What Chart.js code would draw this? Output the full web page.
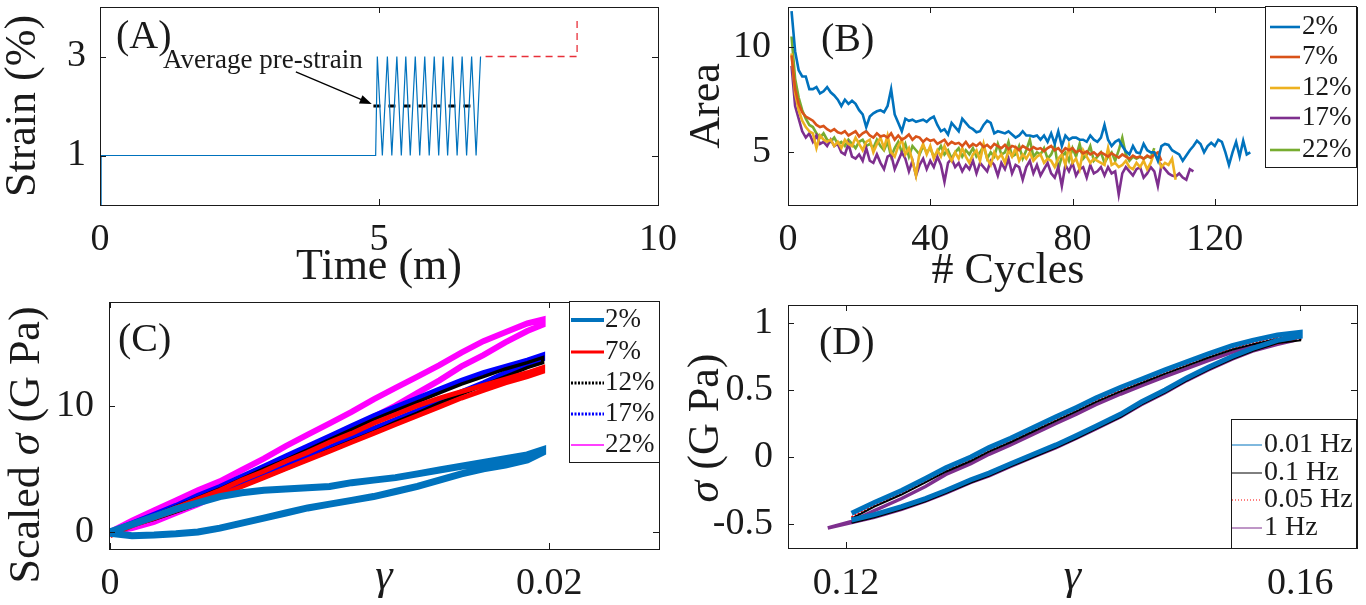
<!DOCTYPE html>
<html>
<head>
<meta charset="utf-8">
<script src="https://cdn.jsdelivr.net/npm/chart.js@4.4.1/dist/chart.umd.min.js"></script>
<style>
  html, body { margin: 0; background: #fff; }
  #wrap { position: relative; width: 1366px; height: 605px; overflow: hidden; }
  #wrap canvas { position: absolute; left: 0; top: 0; }
</style>
</head>
<body>
<div id="wrap">
  <canvas id="chartA" width="1366" height="605"></canvas>
  <canvas id="chartB" width="1366" height="605"></canvas>
  <canvas id="chartC" width="1366" height="605"></canvas>
  <canvas id="chartD" width="1366" height="605"></canvas>
</div>
<script>
// ---- Panel A: strain protocol ----
const STRAIN_T = [0.02, 0.02, 4.94, 4.97, 5.06, 5.15, 5.23, 5.32, 5.40, 5.48, 5.56, 5.65, 5.73, 5.82, 5.90, 5.99, 6.07, 6.15, 6.23, 6.32, 6.40, 6.49, 6.57, 6.66, 6.74, 6.82];
const STRAIN_V = [0, 1, 1, 3, 1, 3, 1, 3, 1, 3, 1, 3, 1, 3, 1, 3, 1, 3, 1, 3, 1, 3, 1, 3, 1, 3];
const AVG_T = [4.90, 6.76];
const AVG_V = [2, 2];
const NEXT_T = [6.91, 8.55, 8.55];
const NEXT_V = [3, 3, 3.8];
const ARROW_FROM = [3.51, 2.69];
const ARROW_TO = [4.87, 2.04];

// ---- Panel B: loop area per cycle (cycle = index + 1) ----
const AREA_LABELS = ['2%', '7%', '12%', '17%', '22%'];
const AREA_2 = [
  11.7, 9.8, 8.9, 8.6, 8.6, 8.0, 8.0, 8.1, 7.8, 7.9,
  8.1, 7.85, 7.7, 7.5, 7.2, 7.5, 7.3, 7.45, 7.3, 7.0,
  6.8, 6.2, 6.7, 6.85, 6.95, 7.0, 6.9, 7.2, 8.0, 6.8,
  6.4, 6.0, 6.6, 6.5, 6.55, 6.45, 6.5, 6.55, 6.45, 6.6,
  6.7, 6.3, 6.0, 6.1, 5.85, 6.4, 6.2, 6.0, 6.6, 6.4,
  6.2, 6.1, 5.95, 6.0, 6.3, 6.5, 6.4, 5.9, 6.0, 5.95,
  5.9, 6.0, 5.85, 5.7, 5.8, 6.0, 5.8, 5.8, 5.75, 5.8,
  5.6, 5.8, 5.5, 5.9, 5.4, 6.0, 5.3, 5.8, 5.6, 5.7,
  5.7, 5.6, 5.6, 5.5, 5.8, 5.6, 5.5, 5.7, 6.3, 5.6,
  5.3, 5.5, 5.6, 5.3, 5.05, 4.9, 5.3, 5.0, 4.95, 5.4,
  5.1, 5.0, 5.0, 4.6, 5.3, 5.4, 5.35, 5.1, 5.0, 4.9,
  4.6, 4.85, 5.1, 5.3, 5.55, 5.4, 5.0, 5.3, 5.45, 5.3,
  5.6, 5.5, 5.0, 4.4, 5.0, 5.5, 4.8, 5.55, 4.9, 5.0];
const AREA_7 = [
  9.6, 8.0, 7.3, 6.9, 6.7, 6.6, 6.5, 6.3, 6.2, 6.25,
  6.1, 6.0, 6.1, 5.95, 5.9, 6.0, 5.8, 5.9, 6.0, 5.75,
  5.9, 6.0, 5.8, 5.7, 5.9, 5.75, 5.8, 5.7, 5.9, 5.6,
  5.8, 5.6, 5.7, 5.85, 5.6, 5.75, 5.7, 5.5, 5.65, 5.55,
  5.6, 5.4, 5.5, 5.6, 5.35, 5.5, 5.4, 5.45, 5.3, 5.5,
  5.25, 5.4, 5.3, 5.45, 5.25, 5.35, 5.2, 5.4, 5.3, 5.2,
  5.35, 5.15, 5.3, 5.25, 5.1, 5.3, 5.2, 5.1, 5.25, 5.15,
  5.2, 5.05, 5.2, 5.3, 5.1, 5.2, 5.0, 5.2, 5.1, 5.2,
  5.0, 5.1, 4.95, 5.05, 4.9, 5.0, 4.85, 5.0, 4.9, 4.8,
  4.95, 4.85, 4.75, 4.9, 4.8, 4.7, 4.85, 4.75, 4.8, 4.7,
  4.85, 4.75, 4.9, 5.0, 4.6];
const AREA_12 = [
  9.7, 7.8, 7.0, 6.5, 6.2, 6.0, 5.9, 5.2, 5.8, 5.6,
  5.5, 5.6, 5.3, 5.5, 5.2, 5.6, 5.4, 5.3, 5.7, 5.4,
  5.1, 5.5, 5.6, 5.0, 5.4, 5.7, 5.2, 5.8, 5.0, 4.8,
  5.3, 5.6, 4.9, 5.2, 4.6, 3.9, 5.0, 5.4, 4.9, 5.3,
  4.7, 5.1, 4.8, 5.3, 4.9, 4.6, 5.0, 4.7, 5.2, 4.8,
  4.5, 4.9, 5.1, 4.6, 5.4, 4.7, 4.4, 5.0, 4.7, 4.9,
  4.5, 5.1, 4.8, 5.2, 4.6, 4.9, 4.7, 5.0, 4.6, 4.8,
  4.9, 4.5, 4.7, 4.6, 4.3, 4.7, 4.9, 4.4, 5.3, 4.5,
  4.7, 4.2, 5.1, 4.8, 4.5, 4.7, 4.6, 4.5, 4.4, 5.2,
  4.4, 4.5, 4.3, 4.4, 4.6, 4.3, 4.2, 4.5, 4.3, 4.6,
  4.2, 4.5, 5.0, 4.7, 4.3, 4.5, 4.4, 4.7, 3.7];
const AREA_17 = [
  9.1, 7.2, 6.6, 6.0, 5.7, 5.9, 5.5, 5.8, 5.4, 5.5,
  5.3, 5.6, 5.3, 5.4, 5.0, 4.9, 5.4, 4.8, 4.7, 4.9,
  4.6, 5.2, 4.6, 4.5, 4.9, 4.5, 4.2, 4.8, 4.9, 4.2,
  4.6, 5.0, 4.7, 4.1, 4.6, 3.9, 4.4, 4.7, 4.2, 4.6,
  4.3, 4.8, 4.4, 3.6, 4.5, 4.7, 4.3, 4.5, 4.1, 4.4,
  4.2, 4.6, 4.0, 4.5, 4.3, 4.1, 4.6, 4.4, 3.9, 4.5,
  4.2, 4.7, 4.0, 4.4, 4.3, 3.7, 4.3, 4.6, 4.0, 4.4,
  3.9, 4.2, 4.5, 4.0, 3.8, 4.3, 3.4, 4.4, 4.1, 4.5,
  3.9, 4.2, 4.3, 3.8, 4.4, 4.0, 4.1, 4.3, 3.9, 4.3,
  4.0, 4.1, 3.0, 4.0, 4.3, 4.1, 3.9, 4.2, 4.3, 3.8,
  4.0, 4.3, 4.1, 3.4, 4.4, 4.2, 4.0, 3.9, 3.85, 4.0,
  3.8, 3.7, 4.2, 4.1];
const AREA_22 = [
  10.5, 8.5, 7.6, 7.0, 6.6, 6.3, 6.2, 5.9, 5.7, 5.9,
  5.6, 5.5, 5.7, 5.4, 5.5, 5.3, 5.6, 5.4, 5.2, 5.5,
  5.6, 5.3, 5.4, 5.2, 5.6, 5.3, 5.1, 5.5, 4.8, 5.2,
  5.5, 5.0, 5.4, 4.8, 5.3, 5.1, 4.9, 5.3, 5.0, 5.2,
  4.8, 5.0, 5.3, 4.9, 5.1, 4.7, 5.0, 5.2, 4.8, 5.1,
  4.9, 5.2, 4.8, 5.0, 5.3, 4.7, 5.0, 4.8, 5.4, 4.9,
  5.0, 5.5, 4.8, 4.9, 5.3, 4.7, 5.1, 5.6, 4.8, 5.0,
  4.9, 5.2, 4.7, 4.9, 5.3, 4.2, 4.8, 5.0, 4.6, 5.2,
  4.8, 5.4, 4.7, 4.9, 5.3, 4.6, 4.8, 5.0, 4.5, 4.8,
  5.0, 4.6, 5.1, 5.7, 4.9, 4.6, 4.8, 4.7, 4.8, 4.7,
  4.8, 4.75, 5.2];

// ---- Panel C: scaled stress loops (up the loading branch, back down the unloading one) ----
const C_LABELS = ['2%', '7%', '12%', '17%', '22%'];
const C_GAMMA = [0, 0.001, 0.002, 0.003, 0.004, 0.005, 0.006, 0.007, 0.008, 0.009, 0.010,
  0.011, 0.012, 0.013, 0.014, 0.015, 0.016, 0.017, 0.018, 0.019, 0.0197];
const C_2 = [0, 0.6, 1.2, 1.8, 2.3, 2.8, 3.1, 3.3, 3.4, 3.5, 3.6, 3.9, 4.1, 4.3, 4.6, 4.9, 5.2, 5.5, 5.8, 6.1, 6.5,
  6.3, 5.7, 5.3, 5.0, 4.6, 4.1, 3.6, 3.2, 2.8, 2.5, 2.2, 1.9, 1.5, 1.1, 0.7, 0.3, 0.0, -0.15, -0.25, -0.3, -0.1];
const C_7 = [0, 0.6, 1.2, 1.9, 2.6, 3.3, 4.1, 4.8, 5.6, 6.3, 7.1, 7.8, 8.6, 9.3, 10.0, 10.6, 11.1, 11.6, 12.1, 12.6, 13.0,
  12.7, 12.3, 11.8, 11.2, 10.6, 9.9, 9.2, 8.5, 7.8, 7.1, 6.4, 5.7, 5.0, 4.3, 3.6, 2.9, 2.3, 1.7, 1.1, 0.5, -0.3];
const C_12 = [0, 0.6, 1.3, 2.0, 2.7, 3.4, 4.2, 5.0, 5.7, 6.5, 7.3, 8.1, 8.9, 9.6, 10.3, 11.0, 11.7, 12.3, 12.9, 13.4, 13.8,
  13.4, 13.0, 12.3, 11.6, 10.9, 10.2, 9.4, 8.7, 7.9, 7.2, 6.5, 5.7, 5.0, 4.3, 3.6, 2.9, 2.2, 1.6, 1.0, 0.5, 0];
const C_17 = [0, 0.7, 1.4, 2.1, 2.9, 3.6, 4.4, 5.2, 6.0, 6.8, 7.6, 8.4, 9.2, 9.9, 10.6, 11.3, 12.0, 12.6, 13.1, 13.6, 14.0,
  13.7, 13.3, 12.6, 11.8, 11.1, 10.3, 9.6, 8.9, 8.2, 7.5, 6.7, 6.0, 5.2, 4.5, 3.8, 3.1, 2.4, 1.8, 1.2, 0.6, 0];
const C_22 = [0, 0.9, 1.7, 2.5, 3.3, 4.0, 4.9, 5.8, 6.8, 7.7, 8.6, 9.5, 10.5, 11.4, 12.3, 13.2, 14.2, 15.1, 15.8, 16.5, 16.8,
  16.4, 15.9, 15.0, 14.0, 13.1, 12.0, 11.0, 10.0, 9.1, 8.2, 7.3, 6.4, 5.5, 4.6, 3.8, 3.0, 2.2, 1.5, 0.8, 0.3, 0];

// ---- Panel D: stress loops at several frequencies ----
const D_LABELS = ['0.01 Hz', '0.1 Hz', '0.05 Hz', '1 Hz'];
const D_GAMMA = [0.1205, 0.1225, 0.1249, 0.1270, 0.1288, 0.1310, 0.1326, 0.1345, 0.1365, 0.1385, 0.1403,
  0.1420, 0.1442, 0.1460, 0.1481, 0.1500, 0.1519, 0.1540, 0.1558, 0.1580, 0.1600];
const D_GAMMA_1HZ = [0.1184, 0.1205, 0.1225, 0.1249, 0.1270, 0.1288, 0.1310, 0.1326, 0.1345, 0.1365, 0.1385,
  0.1403, 0.1420, 0.1442, 0.1460, 0.1481, 0.1500, 0.1519, 0.1540, 0.1558, 0.1580, 0.1595];
const D_001 = [-0.42, -0.34, -0.25, -0.16, -0.08, 0.0, 0.07, 0.14, 0.22, 0.30, 0.37, 0.44, 0.52, 0.58, 0.65, 0.71, 0.77, 0.83, 0.87, 0.91, 0.93,
  0.90, 0.87, 0.81, 0.75, 0.67, 0.59, 0.50, 0.41, 0.32, 0.23, 0.16, 0.09, 0.02, -0.05, -0.12, -0.17, -0.25, -0.31, -0.37, -0.43, -0.47];
const D_01 = [-0.46, -0.37, -0.28, -0.19, -0.11, -0.03, 0.04, 0.11, 0.19, 0.27, 0.34, 0.41, 0.49, 0.55, 0.62, 0.68, 0.74, 0.80, 0.84, 0.88, 0.90,
  0.87, 0.85, 0.79, 0.73, 0.65, 0.57, 0.48, 0.39, 0.30, 0.21, 0.14, 0.07, 0.0, -0.07, -0.14, -0.19, -0.27, -0.33, -0.39, -0.45, -0.49];
const D_005 = [-0.45, -0.36, -0.27, -0.18, -0.10, -0.02, 0.05, 0.12, 0.20, 0.28, 0.35, 0.42, 0.50, 0.56, 0.63, 0.69, 0.75, 0.81, 0.85, 0.89, 0.91,
  0.88, 0.85, 0.80, 0.74, 0.66, 0.58, 0.49, 0.40, 0.31, 0.22, 0.15, 0.08, 0.01, -0.06, -0.13, -0.18, -0.26, -0.32, -0.38, -0.44, -0.48];
const D_1 = [-0.53, -0.48, -0.40, -0.31, -0.22, -0.13, -0.05, 0.02, 0.09, 0.17, 0.25, 0.32, 0.39, 0.47, 0.53, 0.60, 0.66, 0.72, 0.78, 0.83, 0.87, 0.89,
  0.87, 0.84, 0.79, 0.73, 0.65, 0.57, 0.48, 0.39, 0.30, 0.21, 0.14, 0.07, 0.0, -0.07, -0.14, -0.19, -0.27, -0.33, -0.39, -0.45, -0.49, -0.53];

// MATLAB default line colours
const M_BLUE = '#0072BD', M_ORANGE = '#D95319', M_YELLOW = '#EDB120', M_PURPLE = '#7E2F8E', M_GREEN = '#77AC30';
const INK = '#1a1a1a';
const FONT = "'Liberation Serif', 'Times New Roman', Times, serif";
const TICK_LEN = 6;

Chart.defaults.font.family = FONT;
Chart.defaults.color = INK;

const pts = (xs, ys) => ys.map((y, i) => ({ x: xs[i], y }));
const loopX = (g) => g.concat(g.slice().reverse());
const cycles = (ys) => ys.map((y, i) => ({ x: i + 1, y }));

// fixed-size axis so the plot box lands where the reference has it
function makeAxis(o) {
  return {
    type: 'linear', min: o.min, max: o.max,
    grid: { display: false, drawTicks: false },
    border: { display: false },
    afterBuildTicks: (s) => { s.ticks = o.ticks.map((v) => ({ value: v })); },
    afterFit: (s) => {
      if (s.isHorizontal()) { s.height = o.fit; s.paddingLeft = 0; s.paddingRight = 0; }
      else { s.width = o.fit; s.paddingTop = 0; s.paddingBottom = 0; }
    },
    ticks: { color: INK, font: { size: 38, lineHeight: 1 }, padding: o.pad, autoSkip: false, maxRotation: 0, callback: (v) => String(v) },
    title: o.title
      ? { display: true, text: o.title, color: INK, padding: o.titlePad || 0, font: { size: 44, lineHeight: 1, style: o.italic ? 'italic' : 'normal' } }
      : { display: false },
  };
}

function layoutFor(box, yFit, xFit) {
  return { padding: { left: box.l - yFit, right: 1366 - box.r, top: box.t, bottom: 605 - box.b - xFit } };
}

function drawRich(ctx, parts, x, y, size, rot, align, baseline) {
  ctx.save();
  ctx.translate(x, y);
  ctx.rotate(rot || 0);
  ctx.textBaseline = baseline || 'alphabetic';
  ctx.textAlign = 'left';
  ctx.fillStyle = INK;
  const fontOf = (p) => `${p[1] || ''} ${size}px ${FONT}`;
  let total = 0;
  parts.forEach((p) => { ctx.font = fontOf(p); total += ctx.measureText(p[0]).width; });
  let cx = align === 'center' ? -total / 2 : 0;
  parts.forEach((p) => { ctx.font = fontOf(p); ctx.fillText(p[0], cx, 0); cx += ctx.measureText(p[0]).width; });
  ctx.restore();
}

// box, inward ticks on all four sides, inset legend, free texts
const decorPlugin = {
  id: 'decor',
  afterDraw(chart, args, opts) {
    const { ctx, chartArea: a, scales: { x, y } } = chart;
    ctx.save();
    ctx.strokeStyle = INK;
    ctx.lineWidth = 1;
    ctx.beginPath();
    x.ticks.forEach((t) => {
      const p = Math.round(x.getPixelForValue(t.value)) + 0.5;
      ctx.moveTo(p, a.bottom); ctx.lineTo(p, a.bottom - TICK_LEN);
      ctx.moveTo(p, a.top); ctx.lineTo(p, a.top + TICK_LEN);
    });
    y.ticks.forEach((t) => {
      const p = Math.round(y.getPixelForValue(t.value)) + 0.5;
      ctx.moveTo(a.left, p); ctx.lineTo(a.left + TICK_LEN, p);
      ctx.moveTo(a.right, p); ctx.lineTo(a.right - TICK_LEN, p);
    });
    ctx.stroke();
    ctx.strokeRect(Math.round(a.left) + 0.5, Math.round(a.top) + 0.5, Math.round(a.width), Math.round(a.height));

    if (opts.arrow) {
      const [fx, fy] = opts.arrow.from, [tx, ty] = opts.arrow.to;
      const x0 = x.getPixelForValue(fx), y0 = y.getPixelForValue(fy);
      const x1 = x.getPixelForValue(tx), y1 = y.getPixelForValue(ty);
      const ang = Math.atan2(y1 - y0, x1 - x0);
      ctx.strokeStyle = '#000'; ctx.fillStyle = '#000'; ctx.lineWidth = 1.3;
      ctx.beginPath(); ctx.moveTo(x0, y0); ctx.lineTo(x1 - 8 * Math.cos(ang), y1 - 8 * Math.sin(ang)); ctx.stroke();
      ctx.beginPath();
      ctx.moveTo(x1, y1);
      ctx.lineTo(x1 - 12 * Math.cos(ang) + 4.5 * Math.sin(ang), y1 - 12 * Math.sin(ang) - 4.5 * Math.cos(ang));
      ctx.lineTo(x1 - 12 * Math.cos(ang) - 4.5 * Math.sin(ang), y1 - 12 * Math.sin(ang) + 4.5 * Math.cos(ang));
      ctx.closePath(); ctx.fill();
    }

    const lg = opts.legend;
    if (lg) {
      const [l, t, r, b] = lg.box;
      ctx.fillStyle = '#fff';
      ctx.fillRect(l, t, r - l, b - t);
      ctx.strokeStyle = INK; ctx.lineWidth = 1; ctx.setLineDash([]);
      ctx.strokeRect(l + 0.5, t + 0.5, r - l, b - t);
      chart.data.datasets.forEach((ds, i) => {
        const st = lg.styles[i] || {};
        const ry = lg.rows[i];
        ctx.strokeStyle = ds.borderColor;
        ctx.lineWidth = st.w || 1;
        ctx.setLineDash(st.dash || []);
        ctx.beginPath(); ctx.moveTo(lg.line[0], ry); ctx.lineTo(lg.line[1], ry); ctx.stroke();
        ctx.setLineDash([]);
        drawRich(ctx, [[ds.label]], lg.textX, ry, lg.size, 0, 'left', 'middle');
      });
    }
    (opts.texts || []).forEach((tx) => drawRich(ctx, tx.parts, tx.x, tx.y, tx.size, tx.rot, tx.align, tx.baseline));
    ctx.restore();
  },
};

const common = (layout, scales, plugins) => ({
  responsive: false, devicePixelRatio: 1, animation: false, layout, scales,
  elements: { point: { radius: 0 }, line: { tension: 0 } },
  plugins: Object.assign({ legend: { display: false }, tooltip: { enabled: false } }, plugins),
});
const line = (label, data, color, width, dash) => ({
  label, data, borderColor: color, backgroundColor: color, borderWidth: width,
  borderDash: dash || [], showLine: true, pointRadius: 0, fill: false,
});

// ---- A ----
const boxA = { l: 100, r: 658, t: 7, b: 205 };
new Chart(document.getElementById('chartA'), {
  type: 'scatter',
  data: { datasets: [
    line('strain', pts(STRAIN_T, STRAIN_V), M_BLUE, 1.2),
    line('average', pts(AVG_T, AVG_V), '#000', 3, [7, 8]),
    line('next', pts(NEXT_T, NEXT_V), '#E8303A', 1.3, [7, 5]),
  ] },
  options: common(layoutFor(boxA, 100, 84), {
    x: makeAxis({ min: 0, max: 10, ticks: [0, 5, 10], fit: 84, pad: 16, title: 'Time (m)' }),
    y: makeAxis({ min: 0, max: 4, ticks: [1, 3], fit: 100, pad: 14, title: 'Strain (%)', titlePad: 1 }),
  }, { decor: {
    arrow: { from: ARROW_FROM, to: ARROW_TO },
    texts: [
      { parts: [['(A)']], x: 116, y: 48, size: 40 },
      { parts: [['Average pre-strain']], x: 163, y: 68, size: 27 },
    ],
  } }),
  plugins: [decorPlugin],
});

// ---- B ----
const boxB = { l: 788, r: 1357, t: 7, b: 205 };
new Chart(document.getElementById('chartB'), {
  type: 'scatter',
  data: { datasets: [
    line(AREA_LABELS[0], cycles(AREA_2), M_BLUE, 2.6),
    line(AREA_LABELS[1], cycles(AREA_7), M_ORANGE, 2.6),
    line(AREA_LABELS[2], cycles(AREA_12), M_YELLOW, 2.6),
    line(AREA_LABELS[3], cycles(AREA_17), M_PURPLE, 2.6),
    line(AREA_LABELS[4], cycles(AREA_22), M_GREEN, 2.6),
  ] },
  options: common(layoutFor(boxB, 105, 84), {
    x: makeAxis({ min: 0, max: 160, ticks: [0, 40, 80, 120], fit: 84, pad: 16 }),
    y: makeAxis({ min: 2.5, max: 11.9, ticks: [5, 10], fit: 105, pad: 17, title: 'Area', titlePad: 2 }),
  }, { decor: {
    legend: { box: [1265, 6, 1356, 167], rows: [27, 57, 88, 118, 150], line: [1270, 1300], textX: 1302, size: 27,
      styles: [{ w: 2.6 }, { w: 2.6 }, { w: 2.6 }, { w: 2.6 }, { w: 2.6 }] },
    texts: [
      { parts: [['(B)']], x: 821, y: 51, size: 40 },
      { parts: [['# Cycles']], x: 1008, y: 283, size: 44, align: 'center' },
    ],
  } }),
  plugins: [decorPlugin],
});

// ---- C ----
const boxC = { l: 109, r: 659, t: 302, b: 549 };
const cx = loopX(C_GAMMA);
new Chart(document.getElementById('chartC'), {
  type: 'scatter',
  data: { datasets: [
    line(C_LABELS[0], pts(cx, C_2), M_BLUE, 7),
    line(C_LABELS[1], pts(cx, C_7), '#FF0000', 5),
    line(C_LABELS[2], pts(cx, C_12), '#000000', 3.5),
    line(C_LABELS[3], pts(cx, C_17), '#0000FF', 5),
    line(C_LABELS[4], pts(cx, C_22), '#FF00FF', 6),
  ] },
  options: common(layoutFor(boxC, 100, 50), {
    x: makeAxis({ min: -0.00005, max: 0.025, ticks: [0, 0.02], fit: 50, pad: 16, title: 'γ', italic: true }),
    y: makeAxis({ min: -1.35, max: 18.2, ticks: [0, 10], fit: 100, pad: 15 }),
  }, { decor: {
    legend: { box: [569, 301, 659, 462], rows: [320, 352, 383, 414, 445], line: [571, 604], textX: 605, size: 27,
      styles: [{ w: 4 }, { w: 3 }, { w: 3, dash: [2, 1.5] }, { w: 3, dash: [2, 1.5] }, { w: 1.5 }] },
    texts: [
      { parts: [['(C)']], x: 118, y: 351, size: 40 },
      { parts: [['Scaled '], ['σ', 'italic'], [' (G Pa)']], x: 27, y: 445, size: 44, rot: -Math.PI / 2, align: 'center', baseline: 'middle' },
    ],
  } }),
  plugins: [decorPlugin],
});

// ---- D ----
const boxD = { l: 788, r: 1357, t: 305, b: 548 };
const dx = loopX(D_GAMMA);
const dx1 = loopX(D_GAMMA_1HZ);
new Chart(document.getElementById('chartD'), {
  type: 'scatter',
  data: { datasets: [
    line(D_LABELS[0], pts(dx, D_001), M_BLUE, 5),
    line(D_LABELS[1], pts(dx, D_01), '#000000', 2),
    line(D_LABELS[2], pts(dx, D_005), '#FF0000', 2.5, [2, 1.5]),
    line(D_LABELS[3], pts(dx1, D_1), M_PURPLE, 3.5),
  ] },
  options: common(layoutFor(boxD, 100, 51), {
    x: makeAxis({ min: 0.1149, max: 0.1650, ticks: [0.12, 0.16], fit: 51, pad: 17, title: 'γ', italic: true }),
    y: makeAxis({ min: -0.679, max: 1.134, ticks: [-0.5, 0, 0.5, 1], fit: 100, pad: 15 }),
  }, { decor: {
    legend: { box: [1231, 419, 1356, 548], rows: [445, 473, 500, 528], line: [1232, 1262], textX: 1264, size: 28,
      styles: [{ w: 1 }, { w: 1 }, { w: 1, dash: [1, 2] }, { w: 1 }] },
    texts: [
      { parts: [['(D)']], x: 819, y: 354, size: 40 },
      { parts: [['σ', 'italic'], [' (G Pa)']], x: 706, y: 428, size: 44, rot: -Math.PI / 2, align: 'center', baseline: 'middle' },
    ],
  } }),
  plugins: [decorPlugin],
});
</script>
</body>
</html>
